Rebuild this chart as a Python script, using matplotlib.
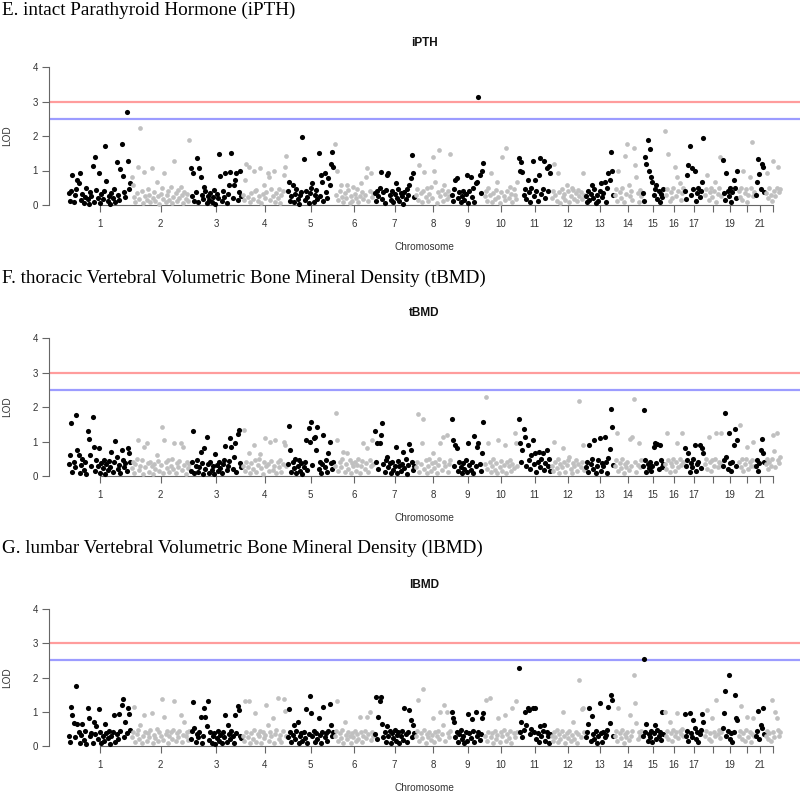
import numpy as np
import matplotlib
matplotlib.use("Agg")
import matplotlib.pyplot as plt

plt.rcParams['font.family'] = ['Liberation Sans', 'DejaVu Sans']

# chromosome lengths (relative), chromosome labels shown on the axis
chrom_len = [63, 59, 52, 45, 47, 40, 41, 36, 33, 34, 33, 34, 29, 28, 22, 20, 20, 18, 16, 17, 10, 16]
tick_labels = ['1', '2', '3', '4', '5', '6', '7', '8', '9', '10', '11', '12', '13', '14', '15',
               '16', '17', '', '19', '', '21', '']

# LOD scores x100, one list per chromosome, markers in map order
ipth_lod = [
    [35, 12, 41, 87, 8, 28, 45, 72, 65, 92, 15, 33, 5, 22, 48, 18, 3, 38, 26, 114, 10, 140, 44, 20, 92,
     6, 31, 17, 40, 172, 70, 12, 27, 4, 36, 21, 47, 9, 125, 30, 15, 103, 176, 85, 38, 24, 269, 128, 46, 63],
    [80, 58, 22, 10, 35, 110, 18, 224, 40, 5, 96, 27, 14, 45, 30, 8, 106, 21, 38, 12, 67, 25, 3, 33, 48,
     17, 92, 9, 29, 41, 15, 52, 6, 24, 127, 36, 11, 44, 19, 53, 28, 7, 39, 16, 31, 13, 188],
    [106, 25, 92, 12, 38, 135, 8, 106, 80, 30, 18, 53, 42, 5, 27, 15, 36, 9, 22, 44, 3, 31, 19, 147, 84,
     11, 40, 24, 92, 7, 33, 58, 96, 151, 20, 58, 72, 92, 14, 37, 98, 26],
    [30, 15, 72, 120, 22, 110, 8, 35, 18, 100, 41, 43, 12, 27, 106, 5, 33, 58, 20, 38, 92, 82, 14, 45,
     25, 100, 10, 36, 19, 47, 7, 29, 40, 87, 110, 141],
    [40, 67, 12, 25, 58, 8, 33, 45, 18, 3, 28, 38, 197, 132, 15, 42, 22, 6, 35, 48, 65, 10, 30, 44, 17,
     152, 26, 87, 67, 13, 92, 39, 21, 77, 58, 120, 154, 110],
    [176, 30, 100, 14, 41, 58, 22, 8, 36, 19, 58, 44, 5, 27, 12, 53, 33, 20, 47, 9, 25, 63, 38, 16, 29,
     82, 106, 11, 40, 92, 24, 35],
    [35, 12, 42, 25, 50, 96, 18, 38, 6, 44, 87, 92, 28, 15, 40, 9, 33, 63, 21, 47, 11, 36, 26, 4, 39,
     17, 45, 30, 58, 77, 146, 93, 22],
    [28, 45, 15, 116, 35, 9, 40, 96, 22, 48, 13, 31, 52, 20, 140, 100, 67, 7, 38, 159, 26, 44, 11, 58,
     33, 18, 42, 25, 147],
    [30, 12, 45, 72, 77, 20, 38, 8, 26, 42, 15, 33, 87, 5, 40, 82, 22, 48, 10, 65, 67, 313, 87, 35, 100, 123],
    [25, 40, 12, 48, 30, 92, 8, 35, 18, 44, 67, 22, 5, 38, 140, 27, 14, 164, 42, 20, 53, 33, 10, 46, 28, 16, 67],
    [137, 100, 125, 96, 30, 45, 18, 72, 38, 8, 50, 127, 25, 72, 40, 12, 87, 135, 33, 47, 127, 20, 106, 42, 113, 92],
    [20, 42, 118, 30, 12, 93, 38, 5, 45, 22, 33, 15, 58, 40, 9, 27, 48, 43, 18, 35, 11, 44, 25, 39, 16, 92, 30],
    [25, 8, 40, 15, 33, 58, 20, 45, 5, 30, 12, 42, 63, 22, 36, 67, 10, 48, 92, 72, 154, 100, 28],
    [30, 45, 12, 100, 38, 20, 50, 8, 142, 33, 176, 58, 25, 42, 15, 164, 116, 82, 35, 10, 44, 27],
    [35, 12, 140, 120, 188, 100, 162, 82, 67, 28, 45, 58, 18, 40, 8, 33, 22, 47],
    [214, 30, 45, 149, 12, 38, 20, 50, 110, 25, 82, 40, 63, 15, 35, 48],
    [40, 18, 87, 116, 172, 30, 106, 45, 98, 12, 35, 50, 22, 42, 67, 193],
    [30, 45, 87, 15, 38, 50, 22, 40, 67, 10, 33, 48, 138, 25],
    [130, 35, 15, 92, 42, 25, 48, 10, 38, 72, 50, 20, 100],
    [40, 22, 50, 15, 100, 35, 45, 10, 30, 82, 48, 183, 25, 38],
    [30, 67, 132, 90, 45, 118, 110, 38],
    [35, 92, 20, 48, 30, 12, 127, 42, 25, 50, 110, 38, 45],
]

tbmd_lod = [
    [35, 60, 153, 12, 42, 25, 177, 75, 60, 8, 33, 48, 18, 40, 5, 129, 107, 60, 28, 172, 83, 15, 45, 30, 80,
     10, 38, 22, 47, 6, 35, 18, 43, 26, 70, 12, 40, 102, 55, 20, 33, 8, 75, 45, 25, 38, 15, 80, 66, 42],
    [22, 40, 10, 35, 48, 105, 18, 30, 45, 7, 85, 25, 97, 38, 12, 42, 28, 5, 36, 20, 60, 44, 15, 32, 143,
     9, 105, 40, 24, 47, 13, 30, 50, 19, 95, 8, 37, 26, 44, 95, 16, 85, 33, 6, 41, 22, 35],
    [15, 40, 131, 8, 30, 45, 12, 25, 70, 38, 5, 80, 20, 114, 35, 10, 42, 18, 28, 6, 64, 33, 14, 40, 22,
     9, 36, 47, 87, 16, 30, 43, 109, 85, 20, 56, 95, 12, 122, 134, 38, 25],
    [30, 134, 15, 42, 25, 68, 8, 38, 20, 90, 45, 12, 33, 48, 64, 22, 5, 40, 109, 28, 36, 15, 100, 44, 18,
     30, 105, 10, 40, 25, 47, 13, 35, 100, 90, 28],
    [35, 145, 75, 12, 40, 22, 48, 8, 30, 45, 15, 38, 5, 27, 42, 105, 18, 138, 100, 156, 33, 109, 114, 75,
     143, 20, 40, 10, 35, 119, 25, 45, 12, 66, 100, 38, 20, 42],
    [30, 182, 105, 15, 40, 25, 48, 70, 12, 35, 66, 20, 45, 8, 38, 28, 42, 15, 33, 50, 10, 30, 44, 95, 20,
     38, 80, 12, 45, 28, 105, 35],
    [131, 40, 95, 20, 95, 119, 153, 35, 12, 45, 56, 25, 38, 8, 42, 18, 30, 85, 10, 44, 28, 15, 36, 70, 22,
     48, 6, 33, 92, 75, 40, 18, 30],
    [25, 40, 180, 12, 35, 95, 165, 20, 45, 8, 30, 48, 15, 38, 66, 22, 42, 10, 33, 50, 95, 18, 114, 40, 28,
     119, 12, 35, 45],
    [165, 105, 30, 90, 80, 15, 42, 25, 8, 38, 20, 45, 12, 97, 33, 18, 40, 10, 117, 28, 85, 97, 35, 15, 66, 156],
    [35, 229, 20, 95, 42, 12, 30, 48, 18, 38, 8, 105, 25, 44, 15, 33, 90, 10, 40, 28, 47, 15, 36, 22, 124, 95, 30],
    [165, 95, 40, 75, 137, 114, 30, 90, 45, 20, 60, 103, 35, 66, 12, 42, 70, 25, 48, 66, 18, 38, 75, 28, 50, 15],
    [30, 15, 100, 42, 22, 48, 10, 35, 25, 80, 40, 12, 33, 45, 56, 20, 8, 38, 28, 47, 15, 35, 216, 25, 42, 90, 18],
    [25, 40, 12, 90, 35, 48, 20, 105, 8, 30, 45, 109, 15, 38, 28, 114, 42, 10, 51, 78, 194, 143, 33],
    [30, 45, 126, 15, 38, 22, 48, 10, 35, 25, 42, 18, 107, 30, 114, 223, 40, 12, 33, 97, 25, 45],
    [30, 192, 46, 12, 35, 22, 40, 15, 28, 85, 97, 38, 93, 20, 90, 45, 25, 35],
    [35, 20, 124, 45, 12, 38, 28, 50, 15, 40, 95, 25, 48, 33, 124, 42],
    [82, 30, 45, 68, 12, 38, 25, 48, 90, 15, 35, 42, 90, 22, 80, 68],
    [35, 48, 20, 114, 40, 15, 45, 30, 50, 124, 25, 42, 38, 124],
    [30, 45, 182, 56, 20, 124, 38, 15, 42, 90, 136, 28, 105],
    [40, 148, 25, 48, 15, 35, 50, 85, 20, 42, 30, 45, 100, 28],
    [30, 45, 15, 38, 75, 107, 66, 40],
    [35, 50, 20, 42, 30, 48, 119, 73, 25, 124, 45, 38, 55],
]

lbmd_lod = [
    [30, 12, 115, 91, 66, 25, 176, 63, 40, 8, 33, 63, 18, 45, 5, 112, 83, 28, 38, 10, 71, 35, 57, 20, 108,
     42, 8, 30, 15, 63, 38, 22, 45, 6, 28, 40, 91, 12, 35, 20, 93, 44, 120, 137, 25, 71, 38, 112, 93, 48],
    [25, 40, 115, 12, 35, 48, 20, 61, 8, 30, 91, 42, 15, 38, 25, 47, 96, 10, 33, 22, 50, 14, 40, 28, 137,
     18, 86, 35, 45, 8, 30, 42, 20, 48, 132, 15, 38, 25, 44, 91, 12, 33, 71, 28, 40, 18, 45],
    [20, 45, 128, 54, 12, 35, 25, 40, 86, 8, 30, 112, 86, 57, 130, 18, 42, 10, 28, 38, 5, 22, 45, 15, 33,
     8, 40, 25, 91, 12, 61, 35, 20, 45, 28, 10, 91, 38, 117, 105, 30, 22],
    [30, 15, 130, 42, 25, 130, 10, 38, 20, 48, 96, 12, 35, 28, 45, 8, 40, 22, 33, 120, 61, 15, 42, 28, 81,
     10, 36, 48, 141, 20, 33, 12, 45, 138, 102, 30],
    [25, 107, 40, 12, 33, 61, 20, 45, 71, 8, 30, 38, 15, 42, 22, 107, 10, 35, 147, 96, 28, 45, 12, 38, 20,
     81, 33, 8, 42, 115, 25, 38, 15, 45, 124, 61, 28, 40],
    [30, 45, 130, 15, 38, 22, 48, 10, 71, 33, 20, 42, 28, 8, 37, 25, 45, 15, 35, 20, 86, 40, 12, 30, 45,
     22, 86, 35, 100, 18, 42, 28],
    [35, 144, 20, 86, 132, 142, 63, 25, 40, 12, 57, 30, 45, 8, 38, 22, 48, 15, 33, 42, 10, 28, 45, 18, 112,
     35, 12, 40, 105, 76, 25, 61, 38],
    [30, 45, 135, 15, 38, 22, 167, 48, 10, 35, 25, 42, 18, 33, 81, 12, 40, 28, 45, 20, 100, 35, 61, 120,
     15, 100, 38, 25, 45],
    [98, 81, 71, 25, 40, 12, 35, 48, 20, 30, 8, 42, 15, 93, 38, 22, 79, 45, 12, 98, 30, 42, 18, 35, 81, 96],
    [30, 135, 15, 42, 140, 25, 38, 10, 45, 20, 33, 83, 12, 40, 28, 48, 91, 15, 35, 22, 45, 10, 110, 38, 25, 130, 40],
    [229, 40, 71, 25, 48, 100, 61, 110, 105, 35, 50, 112, 42, 112, 20, 38, 12, 57, 30, 45, 61, 15, 40, 28, 8, 35],
    [30, 15, 42, 25, 48, 12, 35, 20, 45, 100, 28, 10, 38, 22, 45, 15, 33, 71, 20, 42, 10, 35, 192, 25, 108, 110, 40],
    [25, 40, 64, 112, 15, 89, 35, 20, 45, 10, 30, 125, 38, 12, 42, 25, 33, 48, 113, 66, 149, 135, 30],
    [30, 45, 15, 112, 38, 22, 48, 10, 35, 25, 42, 18, 91, 30, 45, 206, 125, 66, 20, 40, 28, 45],
    [30, 254, 40, 63, 15, 35, 25, 45, 12, 38, 61, 20, 47, 30, 42, 18, 100, 35],
    [100, 30, 45, 20, 71, 38, 15, 48, 28, 40, 96, 22, 45, 35, 50, 30],
    [93, 30, 45, 15, 96, 38, 25, 76, 52, 20, 42, 12, 35, 48, 93, 71],
    [30, 45, 105, 20, 38, 15, 81, 42, 28, 135, 35, 48, 22, 40],
    [54, 96, 162, 30, 45, 208, 20, 38, 12, 42, 149, 81, 76],
    [30, 45, 117, 20, 38, 15, 48, 86, 25, 40, 12, 35, 83, 28],
    [30, 45, 102, 20, 61, 52, 110, 35],
    [30, 45, 20, 38, 15, 135, 42, 25, 100, 81, 48, 30, 40],
]

panels = [
    ("E. intact Parathyroid Hormone (iPTH)", "iPTH", ipth_lod),
    ("F. thoracic Vertebral Volumetric Bone Mineral Density (tBMD)", "tBMD", tbmd_lod),
    ("G. lumbar Vertebral Volumetric Bone Mineral Density (lBMD)", "lBMD", lbmd_lod),
]

# pixel layout: (y of LOD 0, y of LOD 4, heading y, title y, xlabel y)
layout = [(205, 67, 10, 43, 247), (476, 338, 278, 313, 518), (746, 609, 548, 585, 788)]

W, H = 800, 792
fig = plt.figure(figsize=(W / 100, H / 100), dpi=100)

starts = np.concatenate([[0], np.cumsum(chrom_len)[:-1]])
centers = starts + np.array(chrom_len) / 2.0
axis_col = '#666666'

for (heading, short, lod), (y0, y4, yh, yt, yx) in zip(panels, layout):
    unit = (y0 - y4) / 4.0
    top = y4 - 0.2 * unit
    bot = y0 + 0.2 * unit
    ax = fig.add_axes([49 / W, 1 - bot / H, 751 / W, (bot - top) / H])
    ax.set_xlim(-19, 732)
    ax.set_ylim(-0.2, 4.2)

    ax.axhline(3, color='#ff9c9c', lw=1.6, zorder=1)
    ax.axhline(2.5, color='#9c9cff', lw=1.6, zorder=1)

    for i, vals in enumerate(lod):
        v = np.array(vals) / 100.0
        x = starts[i] + (np.arange(len(v)) + 0.5) / len(v) * chrom_len[i]
        if i % 2 == 0:
            ax.plot(x, v, 'o', ms=3.7, color='black', mec='none', zorder=3)
        else:
            ax.plot(x, v, 'o', ms=3.4, color='#c0c0c0', mec='none', zorder=3)

    for s in ['top', 'right']:
        ax.spines[s].set_visible(False)
    ax.spines['left'].set_bounds(0, 4)
    ax.spines['bottom'].set_position(('data', 0))
    ax.spines['bottom'].set_bounds(centers[0], centers[-1])
    for s in ['left', 'bottom']:
        ax.spines[s].set_color(axis_col)
        ax.spines[s].set_linewidth(0.8)

    ax.set_yticks([0, 1, 2, 3, 4])
    ax.set_xticks(centers, tick_labels)
    ax.tick_params(axis='both', length=5, width=0.8, color=axis_col,
                   labelsize=7, labelcolor='#333333')
    ax.tick_params(axis='x', pad=5)
    ax.tick_params(axis='y', pad=3)

    fig.text(2 / W, 1 - yh / H, heading, family='Liberation Serif', fontsize=13.8,
             ha='left', va='center', color='black')
    fig.text(424 / W, 1 - yt / H, short, fontsize=8.5, fontweight='bold',
             ha='center', va='center', color='#111111')
    fig.text(424 / W, 1 - yx / H, 'Chromosome', fontsize=7.2,
             ha='center', va='center', color='#333333')
    fig.text(7 / W, 1 - (y0 + y4) / 2 / H, 'LOD', fontsize=7.2, rotation=90,
             ha='center', va='center', color='#333333')

fig.savefig('out.png', dpi=100)
